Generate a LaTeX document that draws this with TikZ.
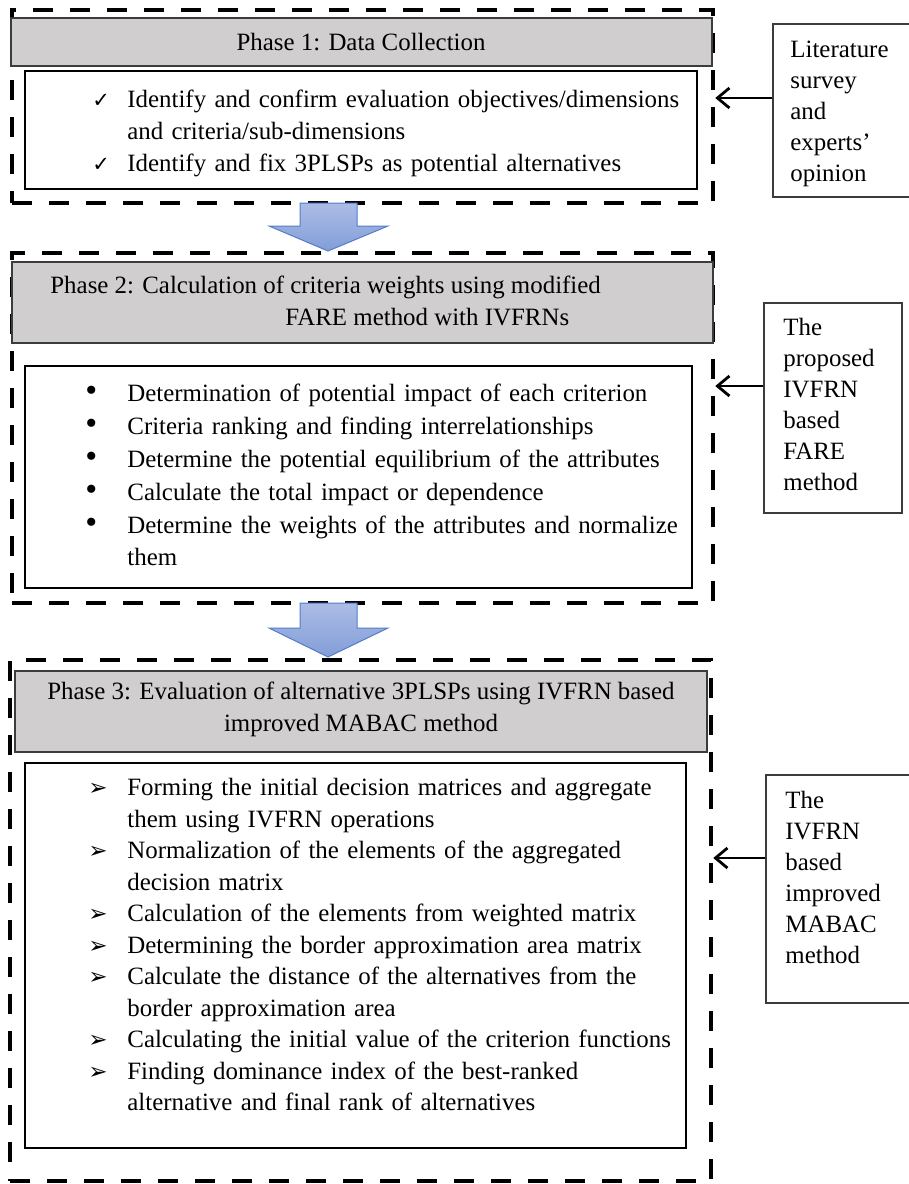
\documentclass[tikz,border=0pt]{standalone}
\usepackage{fontspec}
\setmainfont{Liberation Serif}
\newfontfamily\symfont{DejaVu Sans}
\usetikzlibrary{arrows.meta,positioning,fit}
\definecolor{headgray}{RGB}{208,206,206}
\definecolor{arrowtop}{RGB}{172,188,230}
\definecolor{arrowbot}{RGB}{130,158,216}
\definecolor{arrowline}{RGB}{84,124,200}
\definecolor{boxline}{RGB}{60,60,60}

\newcommand{\stepitem}[2]{\noindent\hangindent=22.5pt\hangafter=1\makebox[22.5pt][l]{#1}#2\par}
\newcommand{\chk}{\hspace{5pt}{\symfont\fontsize{10.5}{10}\selectfont ✓}}
\newcommand{\bul}{\hspace{1.5pt}{\fontsize{17}{10}\selectfont\textbullet}}
\newcommand{\harr}{\hspace{3pt}{\symfont\fontsize{11.5}{10}\selectfont ➢}}

\tikzset{
    phaseframe/.style={draw=black, line width=2.25pt, dash pattern=on 10pt off 8.5pt, inner sep=0pt},
    phasehead/.style={draw=boxline, fill=headgray, line width=0.6pt, inner sep=0pt},
    stepsbox/.style={draw=black, line width=1.1pt, inner sep=0pt},
    sidebox/.style={draw=boxline, line width=0.7pt, inner sep=0pt},
    bodytext/.style={inner sep=0pt, align=left, font=\fontsize{12.45}{16}\selectfont},
    feedarrow/.style={line width=1.4pt, -{Straight Barb[length=6pt,width=10pt]}},
    downarrow/.style={draw=arrowline, line width=0.5pt, top color=arrowtop, bottom color=arrowbot}
}

\begin{document}
\begin{tikzpicture}[x=0.5pt, y=-0.5pt]
    \useasboundingbox (0,0) rectangle (909,1184);

    % phase frames
    \node[phaseframe, fit={(12,10) (713,203)}] (frame1) {};
    \node[phaseframe, fit={(12,253) (713,603)}] (frame2) {};
    \node[phaseframe, fit={(10,660) (711,1181)}] (frame3) {};

    % headers
    \node[phasehead, fit={(11,18) (712,66)}] (head1) {};
    \node[phasehead, fit={(12,262) (713,343)}] (head2) {};
    \node[phasehead, fit={(15,671) (707,752)}] (head3) {};
    \node[bodytext] (title1) at (361,42) {Phase 1: Data Collection};
    \node[bodytext, anchor=west] (title2) at (50,301)
        {Phase 2: Calculation of criteria weights using modified\\\hspace*{117.5pt}FARE method with IVFRNs};
    \node[bodytext, align=center] (title3) at (361,709)
        {Phase 3: Evaluation of alternative 3PLSPs using IVFRN based\\improved MABAC method};

    % step lists
    \node[stepsbox, fit={(25,71) (697,189)}] (steps1) {};
    \node[stepsbox, fit={(25,366) (692,588)}] (steps2) {};
    \node[stepsbox, fit={(25,763) (686,1148)}] (steps3) {};

    \node[bodytext, text width=310pt, anchor=north west] (list1) at (82,90) {%
        \stepitem{\chk}{Identify and confirm evaluation objectives/dimensions\newline and criteria/sub-dimensions}
        \stepitem{\chk}{Identify and fix 3PLSPs as potential alternatives}};
    \node[bodytext, text width=310pt, anchor=north west, font=\fontsize{12.45}{16.4}\selectfont] (list2) at (82,384) {%
        \stepitem{\bul}{Determination of potential impact of each criterion}
        \stepitem{\bul}{Criteria ranking and finding interrelationships}
        \stepitem{\bul}{Determine the potential equilibrium of the attributes}
        \stepitem{\bul}{Calculate the total impact or dependence}
        \stepitem{\bul}{Determine the weights of the attributes and normalize\newline them}};
    \node[bodytext, text width=310pt, anchor=north west, font=\fontsize{12.45}{15.75}\selectfont] (list3) at (82,778) {%
        \stepitem{\harr}{Forming the initial decision matrices and aggregate\newline them using IVFRN operations}
        \stepitem{\harr}{Normalization of the elements of the aggregated\newline decision matrix}
        \stepitem{\harr}{Calculation of the elements from weighted matrix}
        \stepitem{\harr}{Determining the border approximation area matrix}
        \stepitem{\harr}{Calculate the distance of the alternatives from the\newline border approximation area}
        \stepitem{\harr}{Calculating the initial value of the criterion functions}
        \stepitem{\harr}{Finding dominance index of the best-ranked\newline alternative and final rank of alternatives}};

    % sources on the right
    \node[sidebox, fit={(773,24) (912,197)}] (source1) {};
    \node[sidebox, fit={(764,303) (902,513)}] (source2) {};
    \node[sidebox, fit={(766,775) (912,1003)}] (source3) {};
    \node[bodytext, anchor=north west, font=\fontsize{12.45}{15.5}\selectfont] (sourcetext1) at (790,41)
        {Literature\\survey\\and\\experts'\\opinion};
    \node[bodytext, anchor=north west, font=\fontsize{12.45}{15.5}\selectfont] (sourcetext2) at (783,318)
        {The\\proposed\\IVFRN\\based\\FARE\\method};
    \node[bodytext, anchor=north west, font=\fontsize{12.45}{15.5}\selectfont] (sourcetext3) at (785,791)
        {The\\IVFRN\\based\\improved\\MABAC\\method};

    \draw[feedarrow] (source1.west |- 0,98) -- (frame1.east |- 0,98);
    \draw[feedarrow] (source2.west |- 0,386) -- (frame2.east |- 0,386);
    \draw[feedarrow] (source3.west |- 0,858) -- (frame3.east |- 0,858);

    % block arrows between phases
    \draw[downarrow] (300,203) -- (357,203) -- (357,226) -- (388,226) -- (328,251) -- (269,226) -- (300,226) -- cycle;
    \draw[downarrow] (300,603) -- (357,603) -- (357,628) -- (388,628) -- (328,657) -- (269,628) -- (300,628) -- cycle;
\end{tikzpicture}
\end{document}
